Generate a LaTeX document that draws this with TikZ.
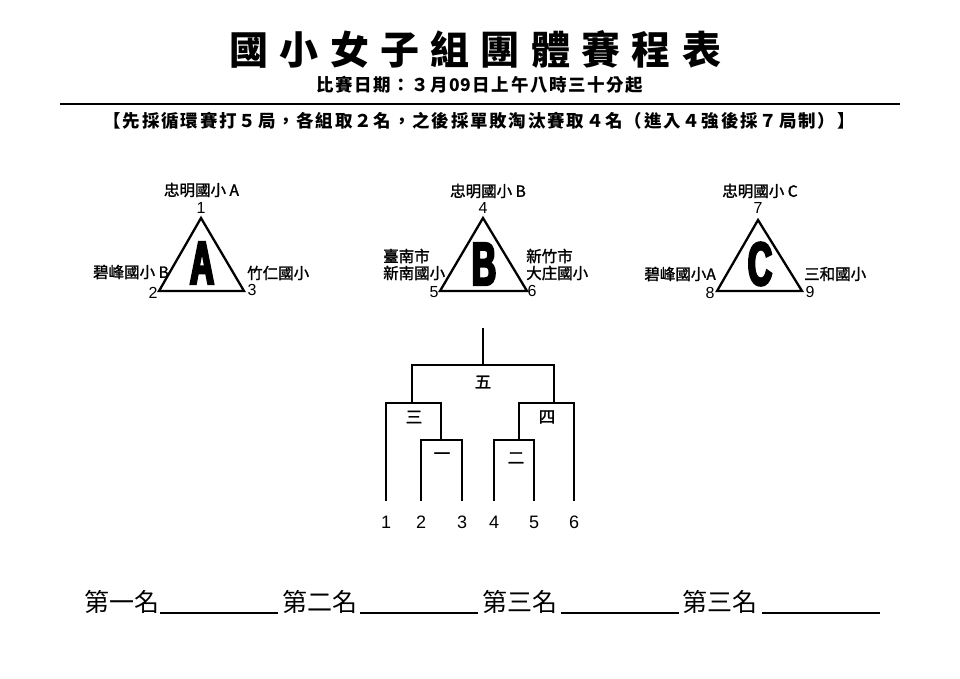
\documentclass[tikz,border=0pt]{standalone}
\usepackage{fontspec}
\usepackage{graphicx}
\setmainfont{Liberation Sans}
\newfontfamily\cjk{Noto Sans CJK TC}
\newfontfamily\cjkm{Noto Sans CJK TC}[FakeBold=1.5]
\newfontfamily\bigletter{Liberation Sans}[FakeStretch=0.55,FakeBold=4]
\newcommand\spacedtext[2]{\def\mygap{#1}\spacedaux#2\relax\hspace{-\mygap}}
\def\spacedaux#1{\ifx\relax#1\else#1\hspace{\mygap}\expandafter\spacedaux\fi}
\tikzset{
  lbl/.style={inner sep=0pt, font=\cjkm\fontsize{15.5}{17}\selectfont},
  num/.style={inner sep=0pt, font=\fontsize{16}{16}\selectfont},
  bnum/.style={inner sep=0pt, font=\fontsize{18}{18}\selectfont},
  tri/.style={line width=2.3pt, line join=miter},
  letter/.style={inner sep=0pt, font=\bigletter\bfseries\fontsize{61}{61}\selectfont},
  br/.style={line width=2pt},
  mlbl/.style={inner sep=0pt, font=\cjkm\fontsize{16.5}{16.5}\selectfont},
  place/.style={inner sep=0pt, anchor=west, font=\cjk\fontsize{25}{25}\selectfont},
  uline/.style={line width=2pt}
}
\begin{document}
\begin{tikzpicture}[x=1pt,y=-1pt]
\useasboundingbox (0,0) rectangle (960,678);
\fill[white] (0,0) rectangle (960,678);
% header
\node[inner sep=0pt, font=\cjk\bfseries\fontsize{39}{39}\selectfont] (title) at (481,49) {\spacedtext{11.3pt}{國小女子組團體賽程表}};
\node[inner sep=0pt, font=\cjk\bfseries\fontsize{17.5}{17.5}\selectfont] (date) at (480.5,85) {\spacedtext{1.6pt}{比賽日期：３月{09}日上午八時三十分起}};
\coordinate (ruleL) at (60,104);
\coordinate (ruleR) at (900,104);
\draw[line width=2.6pt] (ruleL) -- (ruleR);
\node[inner sep=0pt, font=\cjk\bfseries\fontsize{17.5}{17.5}\selectfont] (rule) at (480,121) {\spacedtext{1.8pt}{【先採循環賽打５局，各組取２名，之後採單敗淘汰賽取４名（進入４強後採７局制）】}};
% triangle A
\coordinate (A1) at (201,218);
\coordinate (A2) at (159,291);
\coordinate (A3) at (244,291);
\draw[tri] (A1) -- (A2) -- (A3) -- cycle;
\node[letter] (LA) at (202,263) {A};
\node[lbl] (tA) at (201.5,190) {忠明國小 A};
\node[num] (n1) at (201,208) {1};
\node[lbl, anchor=east] (tB) at (169,272) {碧峰國小 B};
\node[num] (n2) at (153,293) {2};
\node[lbl, anchor=west] (tC) at (247,273) {竹仁國小};
\node[num] (n3) at (252,290) {3};
% triangle B
\coordinate (B1) at (483,218);
\coordinate (B2) at (440,291);
\coordinate (B3) at (527,291);
\draw[tri] (B1) -- (B2) -- (B3) -- cycle;
\node[letter] (LB) at (484,264) {B};
\node[lbl] (tD) at (488,191) {忠明國小 B};
\node[num] (n4) at (483,208) {4};
\node[lbl, anchor=west] (tE1) at (383,256) {臺南市};
\node[lbl, anchor=west] (tE2) at (383,273) {新南國小};
\node[num] (n5) at (434,292) {5};
\node[lbl, anchor=west] (tF1) at (526,256) {新竹市};
\node[lbl, anchor=west] (tF2) at (526,273) {大庄國小};
\node[num] (n6) at (532,291) {6};
% triangle C
\coordinate (C1) at (758,220);
\coordinate (C2) at (717,291);
\coordinate (C3) at (802,291);
\draw[tri] (C1) -- (C2) -- (C3) -- cycle;
\node[letter] (LC) at (760,264) {C};
\node[lbl] (tG) at (760,191) {忠明國小 C};
\node[num] (n7) at (758,208) {7};
\node[lbl, anchor=east] (tH) at (716,274) {碧峰國小A};
\node[num] (n8) at (710,293) {8};
\node[lbl, anchor=west] (tI) at (804,274) {三和國小};
\node[num] (n9) at (810,292) {9};
% bracket
\coordinate (L1) at (386,501);
\coordinate (L2) at (421,501);
\coordinate (L3) at (462,501);
\coordinate (L4) at (494,501);
\coordinate (L5) at (534,501);
\coordinate (L6) at (574,501);
\coordinate (M1) at (441,440);
\coordinate (M2) at (519,440);
\coordinate (M3) at (412,403);
\coordinate (M4) at (554,403);
\coordinate (M5) at (483,365);
\coordinate (top) at (483,328);
\draw[br] (L2) |- (M1) -| (L3);
\draw[br] (L4) |- (M2) -| (L5);
\draw[br] (L1) |- (M3) -| (M1);
\draw[br] (M2) |- (M4) -| (L6);
\draw[br] (M3) |- (M5) -| (M4);
\draw[br] (M5) -- (top);
\node[mlbl] (g5) at (483,382) {五};
\node[mlbl] (g3) at (414,417) {三};
\node[mlbl] (g1) at (442,456) {一};
\node[mlbl] (g2) at (516,458) {二};
\node[mlbl] (g4) at (547,417) {四};
\node[bnum] (b1) at (386,522) {1};
\node[bnum] (b2) at (421,522) {2};
\node[bnum] (b3) at (462,522) {3};
\node[bnum] (b4) at (494,522) {4};
\node[bnum] (b5) at (534,522) {5};
\node[bnum] (b6) at (574,522) {6};
% places
\node[place] (p1) at (84,602) {第一名};
\node[place] (p2) at (282,602) {第二名};
\node[place] (p3) at (482,602) {第三名};
\node[place] (p4) at (682,602) {第三名};
\coordinate (u1a) at (160,613); \coordinate (u1b) at (278,613);
\coordinate (u2a) at (360,613); \coordinate (u2b) at (478,613);
\coordinate (u3a) at (561,613); \coordinate (u3b) at (679,613);
\coordinate (u4a) at (762,613); \coordinate (u4b) at (880,613);
\draw[uline] (u1a) -- (u1b);
\draw[uline] (u2a) -- (u2b);
\draw[uline] (u3a) -- (u3b);
\draw[uline] (u4a) -- (u4b);
\end{tikzpicture}
\end{document}
